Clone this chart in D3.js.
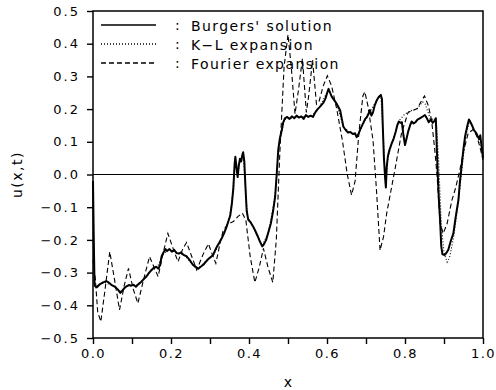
<!DOCTYPE html>
<html>
<head>
<meta charset="utf-8">
<script src="https://cdn.jsdelivr.net/npm/d3@7/dist/d3.min.js"></script>
<style>
  body { margin: 0; background: #fff; }
  svg text { font-family: "DejaVu Sans", sans-serif; fill: #000; }
</style>
</head>
<body>
<div id="chart"></div>
<script>
// Burgers' solution (solid)
const burgersX = [0.000,0.002,0.004,0.010,0.018,0.026,0.034,0.040,0.048,0.056,0.064,0.070,0.074,0.080,0.086,0.092,0.098,0.104,0.110,0.116,0.124,0.130,0.137,0.144,0.150,0.156,0.162,0.168,0.172,0.176,0.180,0.186,0.190,0.196,0.202,0.208,0.214,0.220,0.226,0.232,0.240,0.248,0.256,0.262,0.270,0.276,0.283,0.290,0.296,0.302,0.308,0.313,0.318,0.324,0.330,0.336,0.342,0.348,0.352,0.356,0.360,0.363,0.365,0.368,0.371,0.374,0.377,0.380,0.383,0.385,0.388,0.391,0.394,0.398,0.404,0.410,0.416,0.422,0.428,0.434,0.438,0.444,0.450,0.456,0.462,0.467,0.471,0.475,0.479,0.484,0.488,0.492,0.498,0.504,0.510,0.516,0.522,0.528,0.534,0.540,0.546,0.552,0.558,0.564,0.570,0.576,0.581,0.586,0.591,0.596,0.600,0.604,0.608,0.612,0.618,0.624,0.630,0.634,0.638,0.642,0.648,0.654,0.660,0.666,0.672,0.676,0.680,0.686,0.692,0.698,0.702,0.706,0.710,0.714,0.718,0.722,0.728,0.733,0.738,0.741,0.743,0.746,0.749,0.751,0.753,0.756,0.760,0.766,0.771,0.776,0.780,0.784,0.788,0.792,0.796,0.800,0.804,0.808,0.813,0.817,0.822,0.827,0.832,0.838,0.844,0.851,0.856,0.861,0.866,0.871,0.876,0.879,0.881,0.884,0.887,0.890,0.893,0.896,0.902,0.906,0.911,0.917,0.924,0.930,0.937,0.941,0.945,0.950,0.954,0.960,0.964,0.968,0.972,0.977,0.982,0.986,0.990,0.993,0.996,1.000];
const burgersU = [-0.02,-0.20,-0.34,-0.345,-0.335,-0.33,-0.326,-0.33,-0.338,-0.343,-0.352,-0.362,-0.357,-0.348,-0.342,-0.338,-0.340,-0.337,-0.343,-0.336,-0.328,-0.320,-0.312,-0.300,-0.292,-0.285,-0.282,-0.288,-0.276,-0.250,-0.240,-0.228,-0.234,-0.228,-0.236,-0.230,-0.240,-0.242,-0.238,-0.246,-0.250,-0.262,-0.276,-0.282,-0.288,-0.282,-0.276,-0.266,-0.258,-0.252,-0.246,-0.232,-0.220,-0.208,-0.195,-0.180,-0.162,-0.140,-0.125,-0.090,-0.040,0.030,0.054,0.020,-0.008,0.030,0.048,0.040,0.060,0.068,0.040,-0.040,-0.110,-0.138,-0.146,-0.158,-0.172,-0.188,-0.205,-0.220,-0.214,-0.200,-0.175,-0.150,-0.110,-0.068,0.000,0.075,0.110,0.136,0.160,0.172,0.176,0.170,0.178,0.172,0.180,0.174,0.178,0.170,0.182,0.176,0.180,0.176,0.190,0.200,0.206,0.213,0.220,0.232,0.248,0.262,0.250,0.238,0.228,0.218,0.205,0.195,0.170,0.146,0.136,0.128,0.130,0.124,0.126,0.114,0.122,0.140,0.155,0.170,0.175,0.185,0.197,0.180,0.190,0.210,0.228,0.238,0.243,0.230,0.150,0.050,-0.010,-0.040,0.020,0.055,0.075,0.095,0.110,0.130,0.150,0.162,0.158,0.160,0.120,0.090,0.110,0.131,0.150,0.162,0.156,0.160,0.168,0.172,0.176,0.182,0.172,0.160,0.168,0.158,0.165,0.172,0.100,0.000,-0.080,-0.140,-0.220,-0.244,-0.246,-0.240,-0.230,-0.205,-0.180,-0.130,-0.078,-0.020,0.024,0.080,0.116,0.150,0.168,0.160,0.150,0.135,0.128,0.118,0.108,0.120,0.090,0.050];

// K-L expansion (dotted)
const klX = [0.000,0.003,0.012,0.030,0.050,0.070,0.090,0.110,0.130,0.150,0.165,0.180,0.195,0.215,0.235,0.255,0.270,0.290,0.310,0.330,0.350,0.358,0.364,0.371,0.378,0.385,0.390,0.396,0.410,0.434,0.450,0.467,0.475,0.490,0.520,0.560,0.580,0.603,0.625,0.642,0.660,0.678,0.700,0.712,0.725,0.738,0.744,0.750,0.756,0.770,0.785,0.800,0.815,0.830,0.845,0.852,0.865,0.880,0.886,0.893,0.900,0.908,0.914,0.925,0.937,0.947,0.956,0.966,0.976,0.990,1.000];
const klU = [-0.03,-0.33,-0.34,-0.33,-0.34,-0.358,-0.34,-0.34,-0.322,-0.294,-0.284,-0.243,-0.230,-0.238,-0.248,-0.274,-0.286,-0.264,-0.244,-0.196,-0.132,-0.060,0.045,0.000,0.045,0.062,-0.020,-0.130,-0.156,-0.218,-0.176,-0.068,0.070,0.168,0.176,0.178,0.205,0.258,0.216,0.146,0.128,0.118,0.172,0.195,0.222,0.243,0.120,-0.030,0.050,0.110,0.165,0.185,0.195,0.200,0.222,0.215,0.170,0.168,0.050,-0.150,-0.240,-0.268,-0.255,-0.190,-0.080,0.030,0.120,0.165,0.140,0.112,0.060];

// Fourier expansion (dashed)
const fourierX = [0.000,0.006,0.012,0.020,0.030,0.043,0.055,0.068,0.080,0.091,0.103,0.115,0.130,0.145,0.157,0.167,0.180,0.192,0.205,0.218,0.230,0.240,0.253,0.266,0.282,0.296,0.306,0.315,0.325,0.334,0.348,0.360,0.372,0.383,0.392,0.403,0.415,0.426,0.437,0.449,0.461,0.470,0.479,0.490,0.500,0.509,0.518,0.527,0.537,0.547,0.553,0.563,0.573,0.580,0.590,0.601,0.612,0.625,0.640,0.652,0.663,0.672,0.682,0.692,0.697,0.705,0.718,0.727,0.736,0.745,0.753,0.774,0.791,0.808,0.820,0.832,0.842,0.850,0.860,0.868,0.876,0.882,0.890,0.898,0.908,0.920,0.930,0.940,0.950,0.962,0.975,0.985,0.993,1.000];
const fourierU = [-0.26,-0.32,-0.42,-0.450,-0.36,-0.236,-0.32,-0.414,-0.34,-0.287,-0.35,-0.394,-0.32,-0.251,-0.285,-0.312,-0.24,-0.180,-0.225,-0.267,-0.228,-0.208,-0.250,-0.292,-0.245,-0.212,-0.245,-0.272,-0.215,-0.170,-0.150,-0.144,-0.128,-0.118,-0.140,-0.250,-0.330,-0.285,-0.226,-0.285,-0.330,-0.200,0.065,0.330,0.428,0.320,0.185,0.260,0.355,0.190,0.240,0.350,0.215,0.225,0.270,0.302,0.270,0.200,0.100,0.000,-0.063,-0.020,0.130,0.240,0.253,0.210,0.105,-0.050,-0.232,-0.190,-0.119,0.014,0.126,0.190,0.196,0.202,0.225,0.240,0.210,0.167,0.080,0.000,-0.150,-0.180,-0.150,-0.080,-0.040,0.010,0.070,0.126,0.138,0.115,0.080,0.045];

const xTicks = [0, 0.1, 0.2, 0.3, 0.4, 0.5, 0.6, 0.7, 0.8, 0.9, 1.0];
const yTicks = [-0.5, -0.4, -0.3, -0.2, -0.1, 0, 0.1, 0.2, 0.3, 0.4, 0.5];
const legendLabels = ["Burgers' solution", "K\u2212L expansion", "Fourier expansion"];
const legendDash = [null, "1,2", "5,3"];

const W = 496, H = 390;
const margin = { top: 11, right: 13, bottom: 52, left: 93 };
const width = W - margin.left - margin.right;
const height = H - margin.top - margin.bottom;

const svg = d3.select('#chart').append('svg')
  .attr('width', W).attr('height', H);
const g = svg.append('g').attr('transform', `translate(${margin.left},${margin.top})`);

const x = d3.scaleLinear().domain([0, 1]).range([0, width]);
const y = d3.scaleLinear().domain([-0.5, 0.5]).range([height, 0]);

const fmt = d => d < 0 ? '\u2212' + Math.abs(d).toFixed(1) : d.toFixed(1);

// axes
const xAxis = g.append('g').attr('transform', `translate(0,${height})`)
  .call(d3.axisBottom(x).tickValues(xTicks).tickSize(6).tickPadding(5)
    .tickFormat((d, i) => i % 2 === 0 ? d.toFixed(1) : ''));
const yAxis = g.append('g')
  .call(d3.axisLeft(y).tickValues(yTicks).tickSize(6).tickPadding(7).tickFormat(fmt));
[xAxis, yAxis].forEach(a => {
  a.select('.domain').remove();
  a.selectAll('line').attr('stroke', '#000').attr('stroke-width', 1.4);
  a.selectAll('text').style('font-size', '13px').style('letter-spacing', '2px').attr('fill', '#000');
});
xAxis.selectAll('text').style('letter-spacing', '1.5px');

// frame
g.append('rect').attr('width', width).attr('height', height)
  .attr('fill', 'none').attr('stroke', '#000').attr('stroke-width', 1.5);

// zero line
g.append('line').attr('x1', 0).attr('x2', width).attr('y1', y(0)).attr('y2', y(0))
  .attr('stroke', '#000').attr('stroke-width', 1.1);

const line = d3.line().x(d => x(d[0])).y(d => y(d[1]));

g.append('path').datum(d3.zip(fourierX, fourierU))
  .attr('d', line).attr('fill', 'none').attr('stroke', '#000')
  .attr('stroke-width', 1.1).attr('stroke-dasharray', '5,3');
g.append('path').datum(d3.zip(klX, klU))
  .attr('d', line).attr('fill', 'none').attr('stroke', '#000')
  .attr('stroke-width', 1.1).attr('stroke-dasharray', '1,2');
g.append('path').datum(d3.zip(burgersX, burgersU))
  .attr('d', line).attr('fill', 'none').attr('stroke', '#000')
  .attr('stroke-width', 2).attr('stroke-linejoin', 'round');

// legend
const leg = g.append('g').attr('transform', 'translate(8,14)');
legendLabels.forEach((lab, i) => {
  const row = leg.append('g').attr('transform', `translate(0,${i * 19})`);
  row.append('line').attr('x1', 0).attr('x2', 55).attr('y1', 0).attr('y2', 0)
    .attr('stroke', '#000').attr('stroke-width', 1.3)
    .attr('stroke-dasharray', legendDash[i]);
  row.append('text').attr('x', 74).attr('y', 5).style('font-size', '14px').text(':');
  row.append('text').attr('x', 90).attr('y', 5.5)
    .style('font-size', '14px').style('letter-spacing', '1.4px').text(lab);
});

// axis titles
svg.append('text').attr('x', margin.left + width / 2).attr('y', H - 3)
  .attr('text-anchor', 'middle').style('font-size', '14px').text('x');
svg.append('text').attr('transform', `translate(22,${margin.top + y(0)}) rotate(-90)`)
  .attr('text-anchor', 'middle').style('font-size', '14px').style('letter-spacing', '1.5px').text('u(x,t)');
</script>
</body>
</html>
